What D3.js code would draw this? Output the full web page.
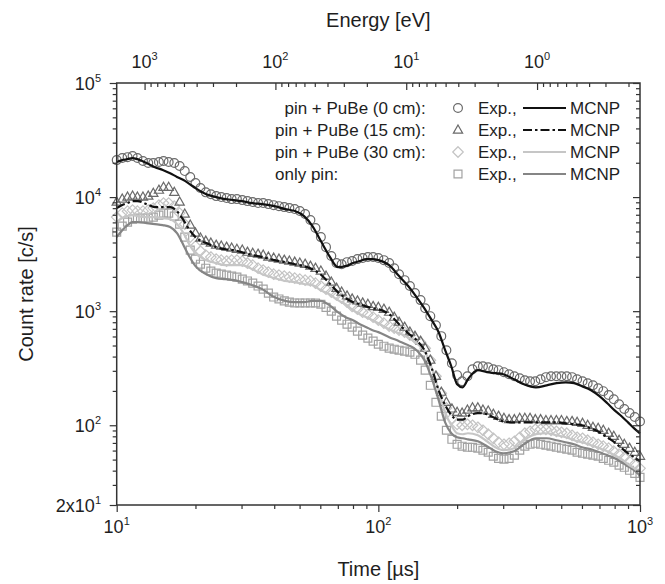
<!DOCTYPE html>
<html>
<head>
<meta charset="utf-8">
<script src="https://cdn.jsdelivr.net/npm/d3@7"></script>
<style>
  body { margin: 0; background: #fff; }
  svg { display: block; }
  text { font-family: "Liberation Sans", Arial, Helvetica, sans-serif; fill: #1e1e1e; }
</style>
</head>
<body>
<svg id="chart" width="665" height="584"></svg>
<script>
// ---- MCNP simulated count rates [c/s] vs time of flight [µs] ----
const timeMcnp = [10, 10.5, 11, 11.5, 12, 13, 14, 15, 16, 17, 18, 19, 20, 22, 24, 26, 28, 30, 33, 36,
  40, 44, 48, 52, 56, 60, 65, 70, 75, 80, 85, 90, 95, 100, 110, 120, 130, 140, 150, 160,
  170, 180, 190, 200, 210, 220, 240, 260, 280, 300, 330, 360, 400, 440, 480, 520, 560, 600, 650, 700,
  750, 800, 850, 900, 950, 1000];

const mcnp0 = [20300, 21100, 21500, 22000, 21500, 19900, 18300, 17300, 16200, 15000, 14100, 13000, 12000, 10600, 10000, 9600, 9410, 9220, 8860, 8680,
  8340, 7850, 7540, 6810, 5570, 4200, 3040, 2430, 2480, 2640, 2750, 2860, 2860, 2800, 2530, 2030, 1660, 1330, 1060, 834,
  654, 455, 329, 229, 215, 253, 304, 292, 286, 280, 253, 229, 215, 224, 234, 238, 234, 220, 203, 180,
  156, 135, 120, 106, 94, 85];

const mcnp15 = [8010, 8510, 8860, 9220, 9220, 8680, 8170, 8170, 8170, 7530, 6290, 5130, 4460, 3950, 3640, 3490, 3430, 3290, 3100, 2980,
  2800, 2690, 2580, 2480, 2330, 2110, 1760, 1470, 1300, 1200, 1150, 1100, 1060, 1040, 941, 769, 641, 557, 455, 316,
  203, 150, 123, 112, 112, 120, 128, 125, 115, 108, 106, 106, 106, 106, 106, 104, 102, 100, 94.1, 86.8,
  78.4, 70.9, 62.9, 56.8, 52.4, 48.3];

const mcnp30 = [6040, 6550, 6810, 6950, 6810, 6680, 6680, 6550, 6410, 5800, 4830, 3790, 3220, 2800, 2640, 2530, 2530, 2530, 2330, 2110,
  1950, 1840, 1800, 1730, 1690, 1530, 1410, 1250, 1150, 1020, 941, 886, 834, 784, 695, 641, 592, 524, 455, 316,
  203, 130, 100, 85.1, 83.4, 85.1, 81.7, 72.4, 64.1, 60.4, 62.9, 73.9, 83.4, 85.1, 81.7, 78.4, 73.9, 70.9, 66.8, 62.9,
  59.2, 54.6, 50.4, 45.5, 41.9, 38.7];

const mcnpPin = [4460, 5130, 5680, 6040, 6040, 5920, 5800, 5680, 5460, 4830, 3790, 2980, 2480, 2110, 1950, 1910, 1870, 1800, 1690, 1560,
  1330, 1230, 1200, 1200, 1230, 1230, 1130, 980, 886, 834, 769, 724, 681, 655, 592, 546, 504, 455, 372, 258,
  166, 106, 85.1, 78.4, 76.9, 75.3, 72.4, 65.5, 59.2, 56.8, 59.2, 68.1, 76.9, 76.9, 73.9, 70.9, 68.1, 64.1, 61.6, 58.0,
  54.6, 51.3, 47.4, 43.7, 40.3, 36.4];

// ---- measured count rates [c/s], one value per time bin [µs] ----
const timeExp = [10.0, 10.5, 11.0, 11.5, 12.0, 12.6, 13.2, 13.8, 14.5, 15.1, 15.8, 16.6, 17.4, 18.2, 19.1, 20.0, 20.9, 21.9, 22.9, 24.0,
  25.1, 26.3, 27.5, 28.8, 30.2, 31.6, 33.1, 34.7, 36.3, 38.0, 39.8, 41.7, 43.7, 45.7, 47.9, 50.1, 52.5, 55.0, 57.5, 60.3,
  63.1, 66.1, 69.2, 72.4, 75.9, 79.4, 83.2, 87.1, 91.2, 95.5, 100, 105, 110, 115, 120, 126, 132, 138, 145, 151,
  158, 166, 174, 182, 191, 200, 209, 219, 229, 240, 251, 263, 275, 288, 302, 316, 331, 347, 363, 380,
  398, 417, 437, 457, 479, 501, 525, 550, 575, 603, 631, 661, 692, 724, 759, 794, 832, 871, 912, 955, 1000];

const exp0 = [21100, 22000, 22400, 22900, 22000, 20700, 19900, 19900, 20300, 20700, 20300, 19900, 18700, 16900, 15000, 13300, 12000, 11000, 10600, 10200,
  10000, 9800, 9600, 9600, 9410, 9220, 9040, 8860, 8860, 8680, 8500, 8330, 8170, 8010, 7850, 7540, 7100, 6290, 5350, 4460,
  3640, 3040, 2640, 2580, 2690, 2750, 2860, 2920, 2980, 2980, 2920, 2800, 2640, 2380, 2110, 1870, 1660, 1440, 1250, 1060,
  904, 753, 604, 455, 349, 275, 243, 269, 310, 329, 329, 322, 310, 304, 292, 280, 269, 258, 248, 243,
  243, 253, 264, 269, 269, 269, 269, 264, 253, 243, 233, 224, 211, 199, 184, 169, 153, 139, 128, 118, 108];

const exp15 = [9040, 9600, 10000, 10200, 10000, 10000, 10200, 10800, 11500, 12200, 12200, 11000, 9040, 7090, 5680, 4830, 4370, 4110, 3950, 3790,
  3720, 3640, 3570, 3490, 3430, 3290, 3220, 3160, 3100, 2980, 2920, 2860, 2800, 2750, 2690, 2640, 2580, 2480, 2380, 2250,
  2030, 1800, 1590, 1470, 1360, 1280, 1230, 1180, 1150, 1100, 1080, 1040, 980, 886, 801, 724, 655, 604, 546, 474,
  372, 269, 195, 159, 139, 130, 128, 136, 142, 142, 136, 133, 125, 120, 115, 112, 112, 115, 115, 115,
  112, 112, 110, 110, 110, 110, 108, 108, 106, 104, 100, 96.0, 94.1, 90.4, 85.1, 80.1, 73.9, 68.1, 62.9, 58.0, 53.5];

const exp30 = [6680, 7240, 7530, 7690, 7530, 7530, 7690, 8010, 8510, 8860, 8860, 8340, 7240, 5800, 4460, 3720, 3360, 3100, 2980, 2860,
  2800, 2750, 2800, 2800, 2750, 2640, 2530, 2380, 2290, 2200, 2110, 2070, 2030, 1990, 1950, 1910, 1870, 1840, 1760, 1660,
  1560, 1470, 1390, 1300, 1200, 1100, 1040, 980, 941, 886, 834, 784, 739, 709, 681, 655, 616, 580, 535, 474,
  372, 269, 191, 142, 115, 102, 100, 102, 100, 96.0, 90.4, 83.4, 76.9, 70.9, 68.1, 69.5, 72.4, 78.4, 85.1, 88.6,
  92.2, 92.2, 92.2, 90.4, 88.6, 86.8, 85.1, 81.7, 78.4, 76.9, 73.9, 70.9, 68.1, 65.5, 62.9, 59.2, 55.7, 52.4, 48.3, 45.5, 41.9];

const expPin = [4930, 5570, 6040, 6410, 6550, 6550, 6550, 6680, 6950, 7240, 7240, 6810, 5800, 4460, 3430, 2860, 2580, 2380, 2250, 2160,
  2110, 2070, 2030, 1990, 1910, 1840, 1760, 1660, 1560, 1440, 1330, 1280, 1230, 1200, 1180, 1180, 1180, 1180, 1180, 1150,
  1080, 1000, 904, 834, 769, 724, 668, 616, 580, 546, 513, 493, 474, 464, 455, 446, 437, 419, 372, 304,
  224, 159, 120, 90.4, 75.3, 68.1, 65.5, 64.1, 64.1, 62.9, 60.4, 58.0, 53.5, 51.3, 50.4, 51.3, 54.6, 60.4, 65.5, 68.1,
  69.5, 68.1, 66.8, 65.5, 64.1, 62.9, 61.6, 60.4, 58.0, 56.8, 55.7, 54.6, 53.5, 51.3, 49.3, 47.4, 44.6, 42.8, 40.3, 37.9, 34.9];

// ---- axes and legend text ----
const timeTickValues = [10, 100, 1000];
const timeTickExponents = ["1", "2", "3"];
const countTickValues = [20, 100, 1000, 10000, 100000];
const countTickBases = ["2x10", "10", "10", "10", "10"];
const countTickExponents = ["1", "2", "3", "4", "5"];
const energyTickValues = [1000, 100, 10, 1];
const energyTickExponents = ["3", "2", "1", "0"];
const legendLabels = ["pin + PuBe (0 cm):", "pin + PuBe (15 cm):", "pin + PuBe (30 cm):", "only pin:"];
const flightPath = 5.59; // m, converts time of flight to neutron energy

// ---- layout ----
const plot = { left: 116.7, right: 640, top: 83, bottom: 505 };
const svg = d3.select("#chart");

const x = d3.scaleLog().domain([10, 1000]).range([plot.left, plot.right]);
const y = d3.scaleLog().domain([20, 1e5]).range([plot.bottom, plot.top]);
const energyOf = t => Math.pow(72.3 * flightPath / t, 2);   // eV, t in µs
const xE = d3.scaleLog().domain([energyOf(10), energyOf(1000)]).range([plot.left, plot.right]);

const AXIS = "#333";

// marker shapes (open symbols)
const markerPath = {
  circle: r => `M${r},0A${r},${r} 0 1,1 ${-r},0A${r},${r} 0 1,1 ${r},0Z`,
  triangle: r => `M0,${-r * 1.15}L${r * 1.05},${r * 0.7}L${-r * 1.05},${r * 0.7}Z`,
  diamond: r => `M0,${-r * 1.2}L${r * 1.2},0L0,${r * 1.2}L${-r * 1.2},0Z`,
  square: r => `M${-r * 0.9},${-r * 0.9}H${r * 0.9}V${r * 0.9}H${-r * 0.9}Z`
};

const series = [
  { label: legendLabels[3], exp: expPin, mcnp: mcnpPin, shape: "square", mark: "#a2a2a2", line: "#858585", dash: null },
  { label: legendLabels[2], exp: exp30, mcnp: mcnp30, shape: "diamond", mark: "#c4c4c4", line: "#c6c6c6", dash: null },
  { label: legendLabels[1], exp: exp15, mcnp: mcnp15, shape: "triangle", mark: "#6a6a6a", line: "#111", dash: "9,3,2.5,3" },
  { label: legendLabels[0], exp: exp0, mcnp: mcnp0, shape: "circle", mark: "#6a6a6a", line: "#111", dash: null }
];

const plotG = svg.append("g");

// measured points
series.forEach(s => {
  plotG.append("g")
    .selectAll("path")
    .data(s.exp.map((v, i) => [timeExp[i], v]))
    .join("path")
    .attr("transform", d => `translate(${x(d[0])},${y(d[1])})`)
    .attr("d", markerPath[s.shape](4.4))
    .attr("fill", "none")
    .attr("stroke", s.mark)
    .attr("stroke-width", 1.2);
});

// simulated curves
const line = d3.line()
  .x(d => x(d[0]))
  .y(d => y(d[1]))
  .curve(d3.curveMonotoneX);

series.forEach(s => {
  plotG.append("path")
    .datum(s.mcnp.map((v, i) => [timeMcnp[i], v]))
    .attr("d", line)
    .attr("fill", "none")
    .attr("stroke", s.line)
    .attr("stroke-width", 2.2)
    .attr("stroke-dasharray", s.dash)
    .attr("stroke-linejoin", "round");
});

// ---- axes ----
function styleAxis(g) {
  g.select(".domain").remove();
  g.selectAll("line").attr("stroke", AXIS).attr("stroke-width", 1.2);
  g.selectAll("text").remove();
}
const isMajor = (v) => Math.abs(Math.log10(v) - Math.round(Math.log10(v))) < 1e-6;

// bottom (time), ticks outward
svg.append("g").attr("transform", `translate(0,${plot.bottom})`)
  .call(d3.axisBottom(x).tickValues(x.ticks().filter(v => !isMajor(v))).tickSize(4).tickSizeOuter(0)).call(styleAxis);
svg.append("g").attr("transform", `translate(0,${plot.bottom})`)
  .call(d3.axisBottom(x).tickValues(timeTickValues).tickSize(7).tickSizeOuter(0)).call(styleAxis);

// top (energy), ticks inward
svg.append("g").attr("transform", `translate(0,${plot.top})`)
  .call(d3.axisBottom(xE).tickValues(xE.ticks().filter(v => !isMajor(v))).tickSize(4).tickSizeOuter(0)).call(styleAxis);
svg.append("g").attr("transform", `translate(0,${plot.top})`)
  .call(d3.axisBottom(xE).tickValues(energyTickValues).tickSize(7).tickSizeOuter(0)).call(styleAxis);

// left (count rate), ticks outward
const yMinor = y.ticks().filter(v => !countTickValues.includes(v));
svg.append("g").attr("transform", `translate(${plot.left},0)`)
  .call(d3.axisLeft(y).tickValues(yMinor).tickSize(4).tickSizeOuter(0)).call(styleAxis);
svg.append("g").attr("transform", `translate(${plot.left},0)`)
  .call(d3.axisLeft(y).tickValues(countTickValues).tickSize(7).tickSizeOuter(0)).call(styleAxis);

// right, ticks inward
svg.append("g").attr("transform", `translate(${plot.right},0)`)
  .call(d3.axisLeft(y).tickValues(yMinor).tickSize(4).tickSizeOuter(0)).call(styleAxis);
svg.append("g").attr("transform", `translate(${plot.right},0)`)
  .call(d3.axisLeft(y).tickValues(countTickValues).tickSize(7).tickSizeOuter(0)).call(styleAxis);

// frame
svg.append("rect")
  .attr("x", plot.left).attr("y", plot.top)
  .attr("width", plot.right - plot.left).attr("height", plot.bottom - plot.top)
  .attr("fill", "none").attr("stroke", AXIS).attr("stroke-width", 1.5);

// power-of-ten labels
function powerLabel(g, base, exp, xPos, yPos, anchor) {
  const t = g.append("text").attr("x", xPos).attr("y", yPos)
    .attr("text-anchor", anchor).attr("font-size", 18);
  t.append("tspan").text(base);
  t.append("tspan").attr("dy", -8.5).attr("font-size", 11).text(exp);
}
const labels = svg.append("g");
timeTickValues.forEach((v, i) => powerLabel(labels, "10", timeTickExponents[i], x(v), 533, "middle"));
energyTickValues.forEach((v, i) => powerLabel(labels, "10", energyTickExponents[i], xE(v), 68, "middle"));
countTickValues.forEach((v, i) => powerLabel(labels, countTickBases[i], countTickExponents[i], 101, y(v) + 7, "end"));

// axis titles
svg.append("text").attr("x", (plot.left + plot.right) / 2).attr("y", 27)
  .attr("text-anchor", "middle").attr("font-size", 20).text("Energy [eV]");
svg.append("text").attr("x", (plot.left + plot.right) / 2).attr("y", 576)
  .attr("text-anchor", "middle").attr("font-size", 20).text("Time [µs]");
svg.append("text")
  .attr("transform", `translate(33,${(plot.top + plot.bottom) / 2}) rotate(-90)`)
  .attr("text-anchor", "middle").attr("font-size", 20).text("Count rate [c/s]");

// ---- legend ----
const legendRows = [series[3], series[2], series[1], series[0]];
const legend = svg.append("g");
const legendLeft = 275;
// the three "pin + PuBe" labels share a common right edge, "only pin:" is left aligned
const probe = legend.append("text").attr("font-size", 17).text(legendLabels[1]);
const labelRight = legendLeft + probe.node().getComputedTextLength();
probe.remove();
legendRows.forEach((s, i) => {
  const ry = 108 + i * 22;
  const last = i === legendRows.length - 1;
  legend.append("text")
    .attr("x", last ? legendLeft : labelRight).attr("y", ry + 6)
    .attr("text-anchor", last ? "start" : "end")
    .attr("font-size", 17).text(s.label);
  legend.append("path").attr("transform", `translate(458,${ry})`)
    .attr("d", markerPath[s.shape](4.4)).attr("fill", "none")
    .attr("stroke", s.mark).attr("stroke-width", 1.2);
  legend.append("text").attr("x", 478).attr("y", ry + 6).attr("font-size", 17).text("Exp.,");
  legend.append("line").attr("x1", 523).attr("x2", 566).attr("y1", ry).attr("y2", ry)
    .attr("stroke", s.line).attr("stroke-width", 2.2).attr("stroke-dasharray", s.dash);
  legend.append("text").attr("x", 570).attr("y", ry + 6).attr("font-size", 17).text("MCNP");
});
</script>
</body>
</html>
